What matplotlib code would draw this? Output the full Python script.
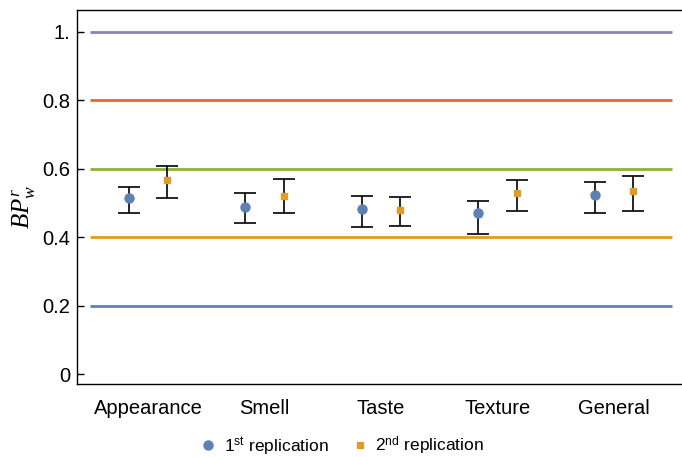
import matplotlib.pyplot as plt
import numpy as np

plt.rcParams['font.family'] = ['Liberation Sans', 'DejaVu Sans']
plt.rcParams['mathtext.fontset'] = 'custom'
plt.rcParams['mathtext.rm'] = 'Liberation Sans'
plt.rcParams['mathtext.it'] = 'Liberation Serif:italic'

# ---------------- data ----------------
categories = ["Appearance", "Smell", "Taste", "Texture", "General"]
rep1_mean = [0.515, 0.488, 0.482, 0.471, 0.524]
rep1_low = [0.472, 0.442, 0.431, 0.410, 0.472]
rep1_high = [0.547, 0.530, 0.521, 0.506, 0.562]
rep2_mean = [0.568, 0.521, 0.480, 0.530, 0.536]
rep2_low = [0.515, 0.471, 0.432, 0.478, 0.478]
rep2_high = [0.609, 0.569, 0.518, 0.568, 0.578]
ref_levels = [0.2, 0.4, 0.6, 0.8, 1.0]
ref_colors = ["#5E81B5", "#E19C24", "#8FB032", "#EB6235", "#8F7FBF"]
ytick_vals = [0, 0.2, 0.4, 0.6, 0.8, 1.0]
ytick_text = ["0", "0.2", "0.4", "0.6", "0.8", "1."]

fig = plt.figure(figsize=(6.82, 4.57), dpi=100)
ax = fig.add_axes([77/682, 73/457, 605/682, 374/457])

x = np.arange(len(categories))
off = 1/6

for lev, col in zip(ref_levels, ref_colors):
    ax.hlines(lev, -0.5, 4.5, color=col, lw=2, zorder=1)

def draw(xs, mean, low, high, col, marker, ms, label):
    mean = np.array(mean)
    err = [mean - np.array(low), np.array(high) - mean]
    ax.errorbar(xs, mean, yerr=err, fmt='none', ecolor='black', elinewidth=1.2,
                capsize=8, capthick=1.2, zorder=2)
    ax.plot(xs, mean, linestyle='none', marker=marker, ms=ms, color=col,
            zorder=3, label=label)

draw(x - off, rep1_mean, rep1_low, rep1_high, "#5E81B5", 'o', 6.5, "1$^{\\rm st}$ replication")
draw(x + off, rep2_mean, rep2_low, rep2_high, "#E19C24", 's', 5, "2$^{\\rm nd}$ replication")

ax.set_xlim(-0.61, 4.584)
ax.set_ylim(-0.029, 1.064)
ax.set_xticks(x)
ax.set_xticklabels(categories, fontsize=14.5)
ax.tick_params(axis='x', length=0, pad=11)
ax.set_yticks(ytick_vals)
ax.set_yticklabels(ytick_text, fontsize=14.5)
ax.tick_params(axis='y', direction='in', length=5, width=1, pad=5)
ax.spines['right'].set_visible(False)
for s in ['left', 'top', 'bottom']:
    ax.spines[s].set_linewidth(1)
ax.set_ylabel("$BP^r_w$", fontsize=18)
ax.yaxis.set_label_coords(-0.066, 0.473)

fig.legend(loc='lower center', bbox_to_anchor=(0.5, -0.035), ncol=2, frameon=False,
           fontsize=12.5, handletextpad=0.3, columnspacing=1.2, handlelength=1.2)

fig.savefig("out.png", dpi=100)
